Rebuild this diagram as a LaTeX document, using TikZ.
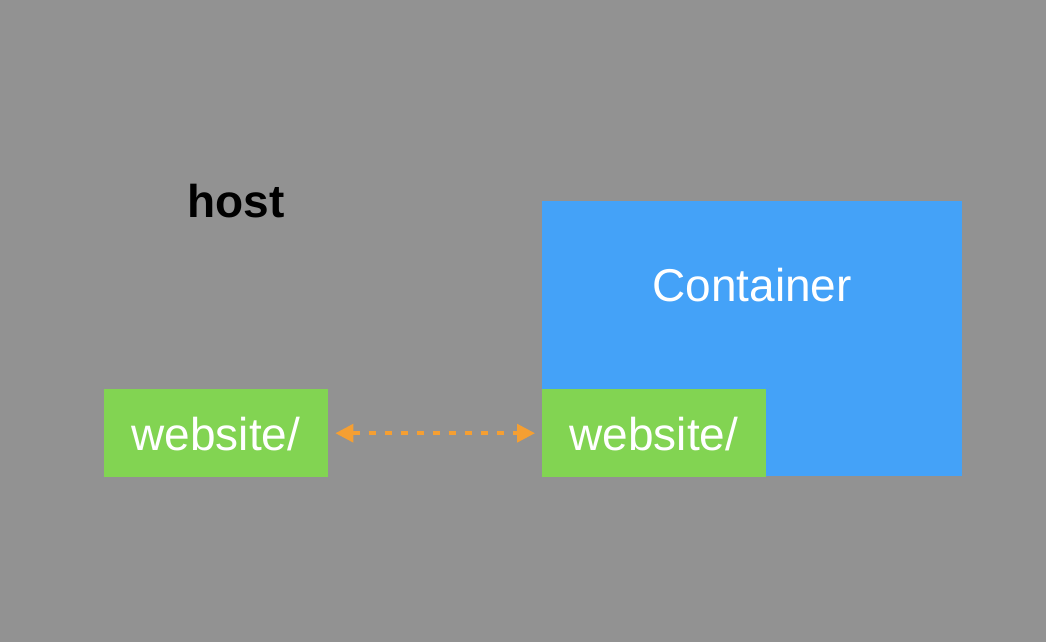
\documentclass[tikz,border=0pt]{standalone}
\usepackage{fontspec}
\setmainfont{Liberation Sans}
\usetikzlibrary{arrows.meta}
\definecolor{bg}{RGB}{146,146,146}
\definecolor{cblue}{RGB}{68,162,248}
\definecolor{cgreen}{RGB}{130,212,82}
\definecolor{corange}{RGB}{245,159,50}
\tikzset{
  box/.style={draw=none, inner sep=0pt, anchor=north west},
  lbl/.style={anchor=base, inner sep=0pt, font=\fontsize{46}{50}\selectfont},
  link/.style={corange, line width=3.5pt, dash pattern=on 7pt off 9pt,
    {Triangle[length=18pt,width=18pt]}-{Triangle[length=18pt,width=18pt]}}
}
\begin{document}
\begin{tikzpicture}[x=1pt,y=-1pt]
\fill[bg] (0,0) rectangle (1046,642);
\useasboundingbox (0,0) rectangle (1046,642);
\node[box, fill=cblue, minimum width=420pt, minimum height=275pt] (cont) at (542,201) {};
\node[box, fill=cgreen, minimum width=224pt, minimum height=88pt] (hweb) at (104,389) {};
\node[box, fill=cgreen, minimum width=224pt, minimum height=88pt] (cweb) at (542,389) {};
\node[lbl, font=\fontsize{46}{50}\selectfont\bfseries, text=black] (host) at (236,217) {host};
\node[lbl, text=white] (ctext) at (752,301) {Container};
\node[lbl, text=white] (htext) at (216,450) {website/};
\node[lbl, text=white] (ctxt2) at (654,450) {website/};
\draw[link, shorten <=7pt, shorten >=7pt] (hweb.east) -- (cweb.west);
\end{tikzpicture}
\end{document}
